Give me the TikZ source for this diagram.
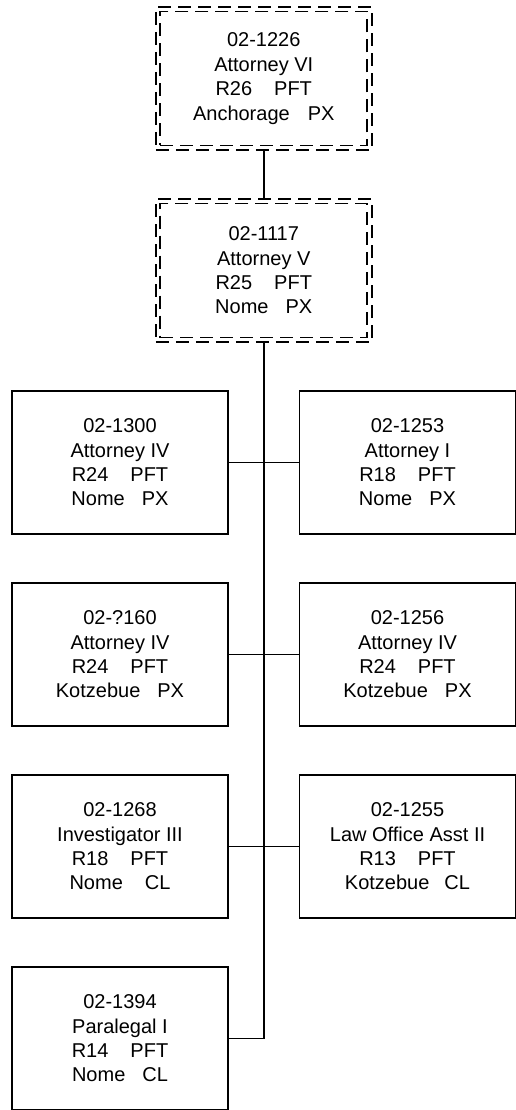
\documentclass[tikz,border=0pt]{standalone}
\usepackage{fontspec}
\setmainfont{Liberation Sans}
\usetikzlibrary{positioning}

\begin{document}
\begin{tikzpicture}[x=1pt, y=-1pt,
	post/.style={draw, line width=1.8pt, minimum width=216pt, minimum height=143pt,
		inner sep=0pt, align=center, font=\fontsize{20}{24.4}\selectfont},
	acting/.style={post, dash pattern=on 13pt off 7pt},
	actinginner/.style={draw, line width=1.8pt, dash pattern=on 13pt off 7pt,
		minimum width=207pt, minimum height=134pt, inner sep=0pt},
	wire/.style={line width=1.8pt}]
	%%%%% START %%%%%
	
	\useasboundingbox (0, 0) rectangle (516, 1110);
	
	% top two (dashed) posts
	\node[acting] (attysix) at (263.75, 78.5) {02-1226\\Attorney VI\\R26\hspace{22pt}PFT\\Anchorage\hspace{18pt}PX};
	\node[actinginner] (attysixin) at (attysix) {};
	
	\node[acting] (attyfive) at (263.75, 270.5) {02-1117\\Attorney V\\R25\hspace{22pt}PFT\\Nome\hspace{17pt}PX};
	\node[actinginner] (attyfivein) at (attyfive) {};
	
	% left column
	\node[post] (attyfourA) at (120, 462.5) {02-1300\\Attorney IV\\R24\hspace{22pt}PFT\\Nome\hspace{17pt}PX};
	\node[post] (attyfourB) at (120, 654.5) {02-?160\\Attorney IV\\R24\hspace{22pt}PFT\\Kotzebue\hspace{17pt}PX};
	\node[post] (invthree) at (120, 846.5) {02-1268\\Investigator III\\R18\hspace{22pt}PFT\\Nome\hspace{22pt}CL};
	\node[post] (paraone) at (120, 1038.5) {02-1394\\Paralegal I\\R14\hspace{22pt}PFT\\Nome\hspace{17pt}CL};
	
	% right column
	\node[post] (attyone) at (407.5, 462.5) {02-1253\\Attorney I\\R18\hspace{22pt}PFT\\Nome\hspace{17pt}PX};
	\node[post] (attyfourC) at (407.5, 654.5) {02-1256\\Attorney IV\\R24\hspace{22pt}PFT\\Kotzebue\hspace{17pt}PX};
	\node[post] (lawtwo) at (407.5, 846.5) {02-1255\\Law Office Asst II\\R13\hspace{22pt}PFT\\Kotzebue\hspace{15pt}CL};
	
	% connectors
	\coordinate (trunkend) at (attyfive.south |- paraone.east);
	\draw[wire] (attysix) -- (attyfive);
	\draw[wire] (attyfive.south) -- (trunkend);
	\draw[wire] (attyfourA.east) -- (attyone.west);
	\draw[wire] (attyfourB.east) -- (attyfourC.west);
	\draw[wire] (invthree.east) -- (lawtwo.west);
	\draw[wire] (paraone.east) -- (trunkend);
	
	%%%%% END %%%%%
\end{tikzpicture}
\end{document}
